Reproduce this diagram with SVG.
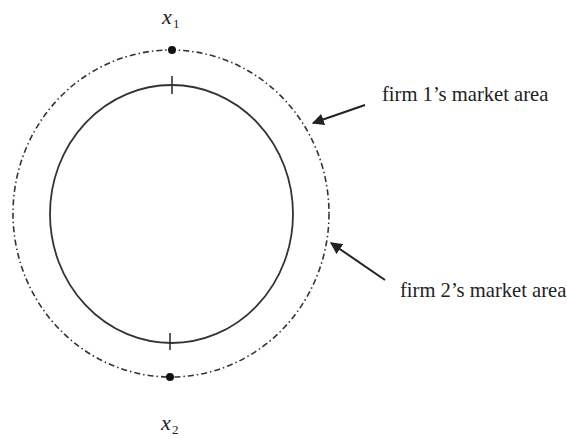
<svg xmlns="http://www.w3.org/2000/svg" width="567" height="439" viewBox="0 0 567 439">
<style>
.lbl{font-family:'Liberation Serif','DejaVu Serif',serif;font-size:20.6px;fill:#222}
.var{font-family:'Liberation Serif','DejaVu Serif',serif;font-style:italic;font-size:22px;fill:#222}
.sub{font-family:'Liberation Serif','DejaVu Serif',serif;font-size:13px;fill:#222}
.conn{stroke:#222;stroke-width:2;fill:none}
</style>
<defs>
<marker id="ah" viewBox="0 0 10 10" refX="9" refY="5" markerWidth="6" markerHeight="6" orient="auto" markerUnits="strokeWidth">
<path d="M0,0 L10,5 L0,10 z" fill="#222"/>
</marker>
</defs>
<rect width="567" height="439" fill="#fff"/>
<g id="outer">
<ellipse cx="171" cy="213.5" rx="158" ry="163.5" fill="none" stroke="#333" stroke-width="1.6" stroke-dasharray="6 3 1.5 3"/>
</g>
<g id="inner">
<ellipse cx="171.5" cy="214" rx="121.5" ry="129" fill="none" stroke="#333" stroke-width="1.8"/>
<line x1="172" y1="76" x2="172" y2="94" stroke="#333" stroke-width="1.6"/>
<line x1="170" y1="333" x2="170" y2="350" stroke="#333" stroke-width="1.6"/>
</g>
<g id="x1">
<circle cx="172" cy="50" r="4" fill="#111"/>
<text class="var" x="162" y="24">x</text><text class="sub" x="173" y="28">1</text>
</g>
<g id="x2">
<circle cx="170" cy="377" r="4" fill="#111"/>
<text class="var" x="161" y="430">x</text><text class="sub" x="172" y="434">2</text>
</g>
<g id="label1"><text class="lbl" x="382" y="101">firm 1’s market area</text></g>
<g id="label2"><text class="lbl" x="400" y="297">firm 2’s market area</text></g>
<g id="connectors">
<line class="conn" x1="365" y1="105" x2="313" y2="123" marker-end="url(#ah)"/>
<line class="conn" x1="385" y1="280" x2="331" y2="243" marker-end="url(#ah)"/>
</g>
</svg>
